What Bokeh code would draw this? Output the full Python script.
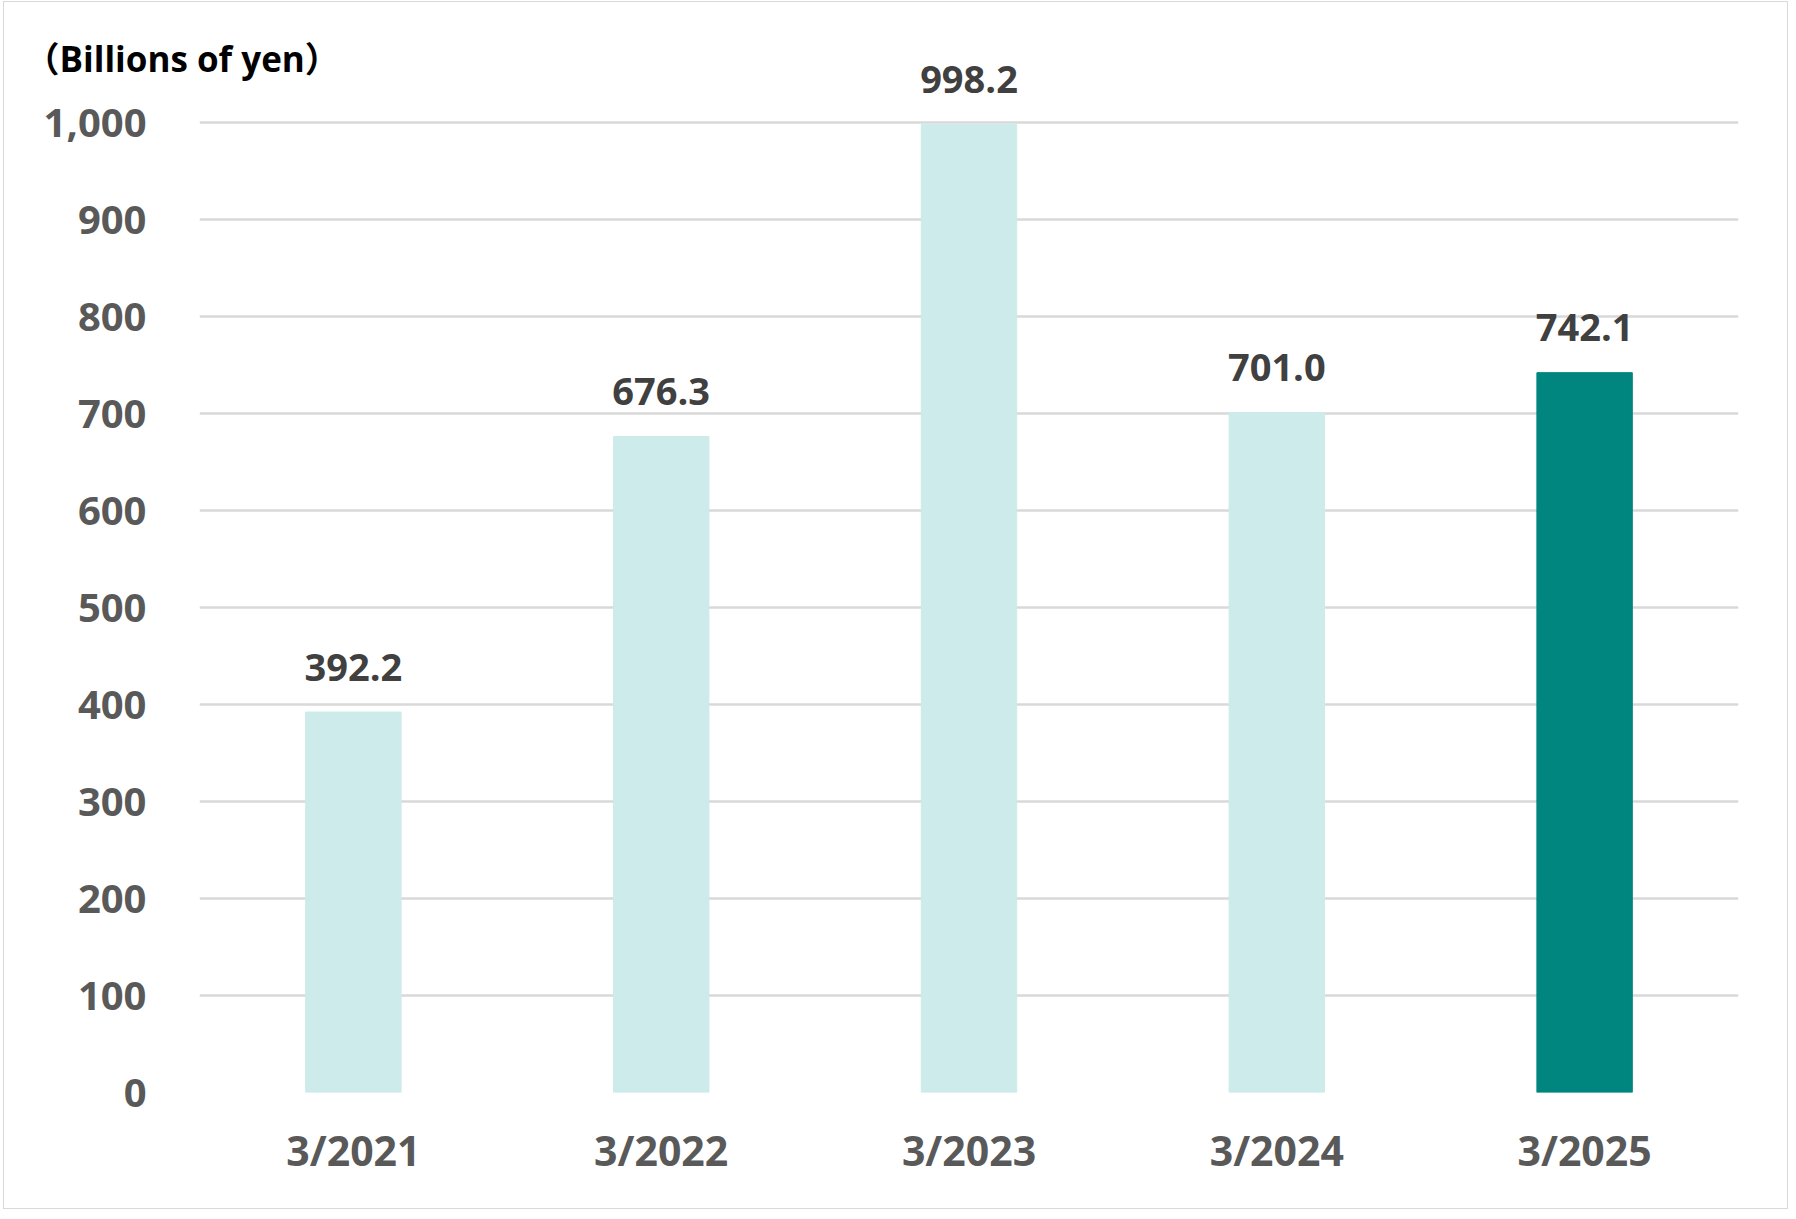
from bokeh.plotting import figure
from bokeh.models import ColumnDataSource, Range1d, FixedTicker, Label, NumeralTickFormatter
from bokeh.embed import file_html
from bokeh.resources import INLINE
from bokeh.core.properties import value

categories = ["3/2021", "3/2022", "3/2023", "3/2024", "3/2025"]
values = [392.2, 676.3, 998.2, 701.0, 742.1]
labels = ["392.2", "676.3", "998.2", "701.0", "742.1"]
colors = ["#CDEBEA", "#CDEBEA", "#CDEBEA", "#CDEBEA", "#00857F"]
y_ticks = [0, 100, 200, 300, 400, 500, 600, 700, 800, 900, 1000]
unit_label = "（Billions of yen）"

FONT = "Open Sans"

src = ColumnDataSource(dict(cat=categories, val=values, lab=labels, col=colors))

p = figure(x_range=categories, y_range=Range1d(0, 1073.2),
           width=1785, height=1208, output_backend="svg", toolbar_location=None,
           min_border_left=195, min_border_right=51, min_border_top=49, min_border_bottom=118)
p.styles = {"border": "1px solid #d9d9d9", "margin": "1px 0px 0px 3px"}

p.vbar(x="cat", top="val", width=0.31, color="col", source=src)
p.text(x="cat", y="val", text="lab", source=src, text_align="center", text_baseline="alphabetic",
       y_offset=-45, text_font=value(FONT), text_font_style="bold", text_font_size="38px",
       text_color="#404040")

p.outline_line_color = None
p.xgrid.grid_line_color = None
p.ygrid.grid_line_color = "#d9d9d9"
p.ygrid.grid_line_width = 2.5
p.yaxis.ticker = FixedTicker(ticks=y_ticks)
p.yaxis.formatter = NumeralTickFormatter(format="0,0")
for ax in (p.xaxis[0], p.yaxis[0]):
    ax.axis_line_color = None
    ax.major_tick_line_color = None
    ax.minor_tick_line_color = None
    ax.major_tick_out = 0
    ax.major_tick_in = 0
    ax.minor_tick_out = 0
    ax.major_label_text_font = FONT
    ax.major_label_text_font_style = "bold"
    ax.major_label_text_color = "#595959"
p.yaxis.major_label_text_font_size = "40px"
p.xaxis.major_label_text_font_size = "41px"
p.yaxis.major_label_standoff = 53
p.xaxis.major_label_standoff = 29

p.add_layout(Label(x=19, y=55, x_units="canvas", y_units="canvas", text=unit_label,
                   text_font="Open Sans, 'Noto Sans CJK JP'", text_font_style="bold",
                   text_font_size="35px", text_color="#000000",
                   text_baseline="middle", text_align="left"), "above")

open("out.html", "w").write(file_html(p, INLINE))
